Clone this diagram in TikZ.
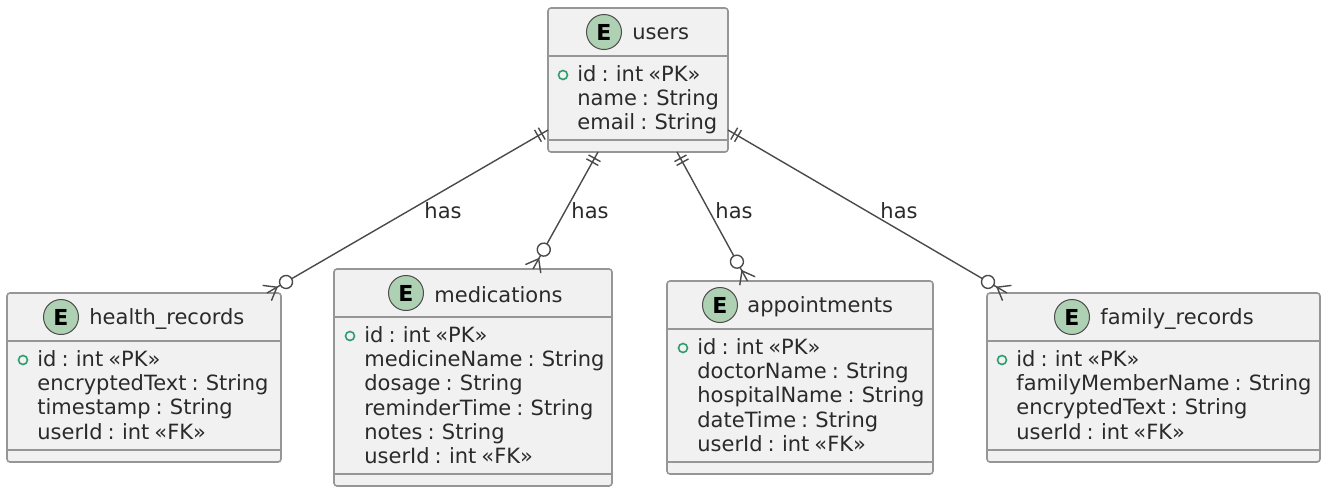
\documentclass[tikz,border=0pt]{standalone}
\usepackage{fontspec}
\setmainfont[WordSpace=0.75]{DejaVu Sans}
\usetikzlibrary{decorations.markings}
\definecolor{boxfill}{HTML}{F1F1F1}
\definecolor{boxline}{HTML}{969696}
\definecolor{spotfill}{HTML}{ADD1B2}
\definecolor{pkdot}{HTML}{2E9E6E}
\definecolor{inktext}{HTML}{2A2A2A}
\definecolor{relline}{HTML}{4A4A4A}
\newcommand{\umlfont}{\fontsize{10.5}{12.15}\selectfont}
\begin{document}
\begin{tikzpicture}
  [x=0.5pt,y=-0.5pt,font=\umlfont,text=inktext,
   box_style/.style={draw=boxline,fill=boxfill,line width=0.8pt,rounded corners=1.5pt,inner sep=0pt},
   divider_style/.style={draw=boxline,line width=0.8pt},
   spot_style/.style={circle,draw=black!70,fill=spotfill,line width=0.5pt,minimum size=17.5pt,inner sep=0pt,font=\fontsize{11}{12}\selectfont\bfseries,text=black},
   title_style/.style={anchor=west,inner sep=0pt},
   fields_style/.style={anchor=north west,align=left,inner sep=0pt},
   pk_style/.style={circle,draw=pkdot,line width=0.8pt,minimum size=4.5pt,inner sep=0pt},
   label_style/.style={inner sep=0pt},
   edge_style/.style={draw=relline,line width=0.7pt,postaction={decorate},
     decoration={markings,
       mark=at position 3.6pt with {\draw[relline,line width=0.7pt] (0pt,-3.4pt) -- (0pt,3.4pt);},
       mark=at position 5.8pt with {\draw[relline,line width=0.7pt] (0pt,-3.4pt) -- (0pt,3.4pt);},
       mark=at position -5.75pt with {\draw[relline,line width=0.7pt] (5.75pt,-4.4pt) -- (0pt,0pt) -- (5.75pt,4.4pt);},
       mark=at position -11pt with {\draw[relline,line width=0.7pt,fill=white] (0pt,0pt) circle (3.25pt);}}}]
  % entity boxes
  \node[box_style,minimum width=90pt,minimum height=72pt] (users) at (638,80) {};
  \node[box_style,minimum width=137pt,minimum height=84.5pt] (health) at (144,377.5) {};
  \node[box_style,minimum width=139pt,minimum height=108.5pt] (meds) at (473,377.5) {};
  \node[box_style,minimum width=133pt,minimum height=96.5pt] (appts) at (800,377.5) {};
  \node[box_style,minimum width=166.5pt,minimum height=84.5pt] (family) at (1153.5,377.5) {};
  % dividers
  \draw[divider_style] (548,56) -- (728,56) (548,140) -- (728,140);
  \draw[divider_style] (7,341) -- (281,341) (7,450) -- (281,450);
  \draw[divider_style] (334,317) -- (612,317) (334,474) -- (612,474);
  \draw[divider_style] (667,329) -- (933,329) (667,462) -- (933,462);
  \draw[divider_style] (987,341) -- (1320,341) (987,450) -- (1320,450);
  % titles
  \node[spot_style] (s1) at (604,32) {E};
  \node[title_style] (t1) at (632,34) {users};
  \node[spot_style] (s2) at (61,317) {E};
  \node[title_style] (t2) at (89,319) {health\_records};
  \node[spot_style] (s3) at (406,293) {E};
  \node[title_style] (t3) at (434,295) {medications};
  \node[spot_style] (s4) at (720,305) {E};
  \node[title_style] (t4) at (747,307) {appointments};
  \node[spot_style] (s5) at (1072,317) {E};
  \node[title_style] (t5) at (1100,319) {family\_records};
  % fields
  \node[pk_style] (k1) at (563,75) {};
  \node[fields_style] (f1) at (577,65) {id : int «PK»\\name : String\\email : String};
  \node[pk_style] (k2) at (23,360) {};
  \node[fields_style] (f2) at (37,350) {id : int «PK»\\encryptedText : String\\timestamp : String\\userId : int «FK»};
  \node[pk_style] (k3) at (350,336) {};
  \node[fields_style] (f3) at (364,326) {id : int «PK»\\medicineName : String\\dosage : String\\reminderTime : String\\notes : String\\userId : int «FK»};
  \node[pk_style] (k4) at (683,348) {};
  \node[fields_style] (f4) at (697,338) {id : int «PK»\\doctorName : String\\hospitalName : String\\dateTime : String\\userId : int «FK»};
  \node[pk_style] (k5) at (1002,360) {};
  \node[fields_style] (f5) at (1016,350) {id : int «PK»\\familyMemberName : String\\encryptedText : String\\userId : int «FK»};
  % line ends
  \coordinate (u1) at (548,130);
  \coordinate (u2) at (598,152);
  \coordinate (u3) at (677,152);
  \coordinate (u4) at (728,130);
  \coordinate (e1) at (267,293);
  \coordinate (e2) at (533,269);
  \coordinate (e3) at (747.5,281);
  \coordinate (e4) at (1007,293);
  \draw[edge_style] (u1) -- (e1);
  \draw[edge_style] (u2) -- (e2);
  \draw[edge_style] (u3) -- (e3);
  \draw[edge_style] (u4) -- (e4);
  \node[label_style] (has1) at (443,211) {has};
  \node[label_style] (has2) at (590,211) {has};
  \node[label_style] (has3) at (734,211) {has};
  \node[label_style] (has4) at (899,211) {has};
  \useasboundingbox (0,0) rectangle (1329,494);
\end{tikzpicture}
\end{document}
